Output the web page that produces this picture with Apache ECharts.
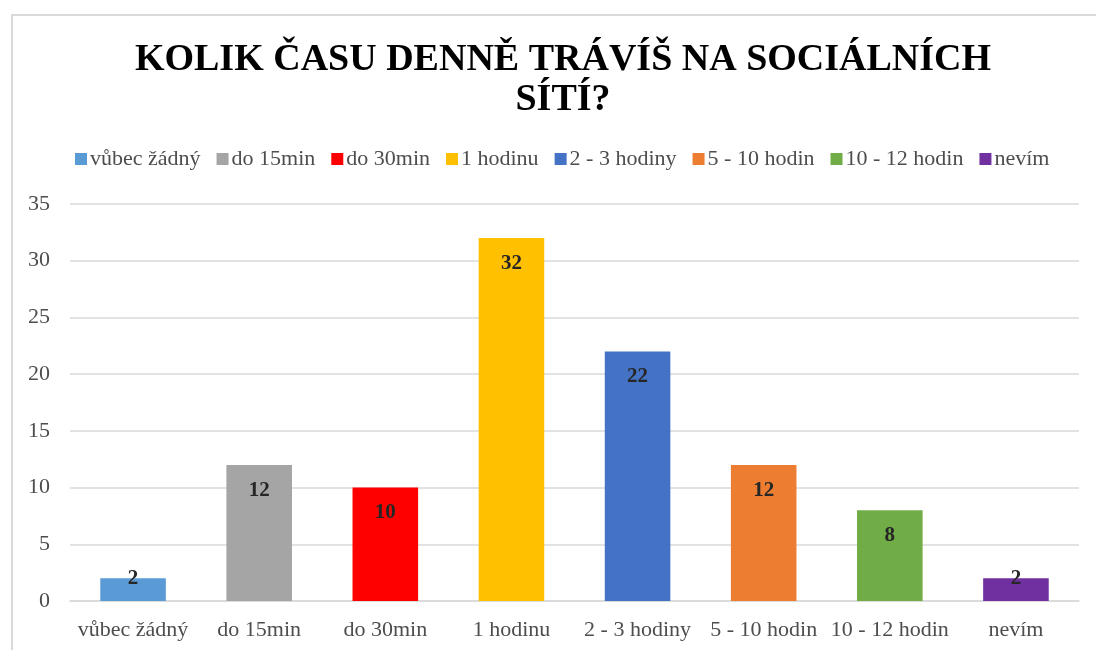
<!DOCTYPE html>
<html>
<head>
<meta charset="utf-8">
<script src="https://cdn.jsdelivr.net/npm/echarts@6/dist/echarts.min.js"></script>
<style>
html,body{margin:0;padding:0;background:#fff;}
#chart{width:1096px;height:650px;}
</style>
</head>
<body>
<div id="chart"></div>
<script>
const categories = ['vůbec žádný','do 15min','do 30min','1 hodinu','2 - 3 hodiny','5 - 10 hodin','10 - 12 hodin','nevím'];
const values = [2, 12, 10, 32, 22, 12, 8, 2];
const colors = ['#5B9BD5','#A5A5A5','#FF0000','#FFC000','#4472C4','#ED7D31','#70AD47','#7030A0'];
const yTicks = [0, 5, 10, 15, 20, 25, 30, 35];

const font = 'Liberation Serif';
const chart = echarts.init(document.getElementById('chart'));

const series = categories.map((name, i) => ({
  name: name,
  type: 'bar',
  barWidth: '52%',
  barGap: '-100%',
  itemStyle: { color: colors[i] },
  data: values.map((v, j) => j === i ? {
    value: v,
    label: v < 5 ? { position: 'top', distance: -11 } : { position: 'insideTop', distance: 15 }
  } : '-'),
  label: {
    show: true,
    color: '#262626',
    fontFamily: font,
    fontWeight: 'bold',
    fontSize: 21
  }
}));

chart.setOption({
  animation: false,
  graphic: [{
    type: 'rect',
    shape: { x: 12, y: 15, width: 1100, height: 660 },
    style: { fill: 'none', stroke: '#d9d9d9', lineWidth: 2 },
    silent: true
  }],
  title: {
    text: 'KOLIK ČASU DENNĚ TRÁVÍŠ NA SOCIÁLNÍCH\nSÍTÍ?',
    left: 558,
    textAlign: 'center',
    top: 35,
    textStyle: {
      fontFamily: font,
      fontWeight: 'bold',
      fontSize: 38,
      lineHeight: 40,
      color: '#000'
    }
  },
  legend: {
    data: categories,
    top: 143,
    left: 70,
    icon: 'rect',
    itemWidth: 12,
    itemHeight: 12,
    itemGap: 16,
    textStyle: { fontFamily: font, fontSize: 22, color: '#4d4d4d', padding: [0,0,0,-2] }
  },
  grid: { left: 70, right: 17, top: 204, bottom: 49, containLabel: false },
  xAxis: {
    type: 'category',
    data: categories,
    axisTick: { show: false },
    axisLine: { lineStyle: { color: '#d9d9d9', width: 1.5 } },
    axisLabel: { fontFamily: font, fontSize: 22, color: '#4d4d4d', margin: 18, interval: 0 }
  },
  yAxis: {
    type: 'value',
    min: yTicks[0],
    max: yTicks[yTicks.length - 1],
    interval: 5,
    axisLine: { show: false },
    axisTick: { show: false },
    splitLine: { lineStyle: { color: '#d9d9d9', width: 1.5 } },
    axisLabel: { fontFamily: font, fontSize: 22, color: '#4d4d4d', margin: 20 }
  },
  series: series
});
</script>
</body>
</html>
